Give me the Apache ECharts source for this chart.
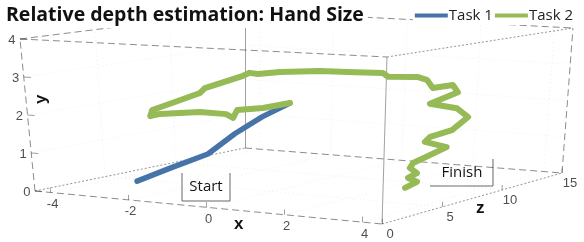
<!DOCTYPE html>
<html>
<head>
<meta charset="utf-8">
<script src="https://cdn.jsdelivr.net/npm/echarts@6/dist/echarts.min.js"></script>
<style>
  html, body { margin: 0; padding: 0; background: #fff; }
  #chart { width: 584px; height: 242px; }
</style>
</head>
<body>
<div id="chart"></div>
<script>
// axis ranges and ticks
const xRange = [-4.4, 4.5];
const yRange = [0, 4];
const zRange = [0, 15];
const xTicks = [-4, -2, 0, 2, 4];
const yTicks = [0, 1, 2, 3, 4];
const zTicks = [0, 5, 10, 15];

// hand positions, task 1 (start -> middle)
const task1X = [-2.46, -1.94, -1.30, -0.94, -0.40, 0.15];
const task1Y = [0.29, 0.60, 0.95, 1.44, 1.89, 2.26];
const task1Z = [2, 3, 4, 5, 5.5, 6];

// hand positions, task 2 (middle -> finish)
const task2X = [0.15, -0.55, -1.22, -1.33, -1.51, -2.19, -2.71, -3.23, -3.49, -3.43,
                -2.83, -2.17, -2.04, -1.05, -0.88, -0.67, -0.10, 0.92, 1.82, 2.53,
                2.67, 3.41, 3.66, 3.82, 3.37, 3.51, 2.79, 3.50, 3.81, 3.40,
                3.80, 3.67, 4.24, 3.38, 3.30, 3.49, 3.26, 3.50, 3.19];
const task2Y = [2.26, 2.08, 1.98, 1.76, 1.85, 1.86, 1.79, 1.73, 1.65, 1.82,
                2.08, 2.37, 2.51, 2.90, 2.99, 2.97, 3.06, 3.15, 3.17, 3.19,
                3.10, 3.14, 3.08, 2.88, 2.75, 2.57, 2.22, 2.15, 1.94, 1.57,
                1.64, 1.50, 1.41, 0.94, 0.81, 0.69, 0.55, 0.47, 0.29];
const task2Z = [6, 6, 6, 6, 6, 6, 6, 6, 6, 6,
                6, 6, 6, 6, 6, 6, 6, 6, 6, 6,
                6, 6, 6, 6, 9, 9, 9, 9, 9, 9,
                6, 6, 6, 6, 6, 6, 6, 6, 6];

// camera: where the 8 corners of the box land on screen (key = x y z, 0 min / 1 max)
const boxCorners = {
  '000': [35, 191], '100': [382, 224], '101': [562, 173], '001': [245, 148],
  '010': [20, 39],  '110': [387, 57],  '111': [573, 28],  '011': [245, 11]
};

function project(x, y, z) {
  const u = (x - xRange[0]) / (xRange[1] - xRange[0]);
  const v = (y - yRange[0]) / (yRange[1] - yRange[0]);
  const w = (z - zRange[0]) / (zRange[1] - zRange[0]);
  let px = 0, py = 0;
  for (const i of [0, 1]) for (const j of [0, 1]) for (const k of [0, 1]) {
    const f = (i ? u : 1 - u) * (j ? v : 1 - v) * (k ? w : 1 - w);
    const c = boxCorners['' + i + j + k];
    px += f * c[0];
    py += f * c[1];
  }
  return [px, py];
}

const X0 = xRange[0], X1 = xRange[1], Y0 = yRange[0], Y1 = yRange[1], Z0 = zRange[0], Z1 = zRange[1];
const dashed = { color: '#1a1a1a', width: 1, type: [7, 4] };
const dotted = { color: '#2a2a2a', width: 1, type: [2, 2] };
const solid = { color: '#444', width: 1, type: 'solid' };
const faint = { color: '#e2e2e2', width: 1, type: [1, 3] };

function seg(a, b, style) {
  return { coords: [project(...a), project(...b)], lineStyle: style };
}

const boxEdges = [
  seg([X0, Y0, Z0], [X1, Y0, Z0], dashed),
  seg([X0, Y0, Z0], [X0, Y1, Z0], dashed),
  seg([X0, Y1, Z0], [X1, Y1, Z0], dashed),
  seg([X0, Y1, Z0], [X0, Y1, Z1], dashed),
  seg([X0, Y1, Z1], [X1, Y1, Z1], dashed),
  seg([X1, Y1, Z0], [X1, Y1, Z1], dotted),
  seg([X1, Y0, Z1], [X1, Y1, Z1], dashed),
  seg([X1, Y0, Z0], [X1, Y0, Z1], dotted),
  seg([X0, Y0, Z0], [X0, Y0, Z1], dotted),
  seg([X0, Y0, Z1], [X1, Y0, Z1], dashed),
  seg([X1, Y0, Z0], [X1, Y1, Z0], solid),
  seg([X0, Y0, Z1], [X0, Y1, Z1], solid)
];

const gridLines = [];
xTicks.forEach(t => {
  gridLines.push(seg([t, Y0, Z1], [t, Y1, Z1], faint));
  gridLines.push(seg([t, Y0, Z0], [t, Y0, Z1], faint));
});
yTicks.slice(1, -1).forEach(t => {
  gridLines.push(seg([X0, t, Z1], [X1, t, Z1], faint));
  gridLines.push(seg([X0, t, Z0], [X0, t, Z1], faint));
});
zTicks.slice(1, -1).forEach(t => {
  gridLines.push(seg([X0, Y0, t], [X1, Y0, t], faint));
  gridLines.push(seg([X0, Y0, t], [X0, Y1, t], faint));
});

const tickMarks = [];
xTicks.forEach(t => tickMarks.push(seg([t, Y0, Z0], [t, 0.13, Z0], solid)));
yTicks.forEach(t => tickMarks.push(seg([X0, t, Z0], [X0 + 0.18, t, Z0], solid)));
zTicks.forEach(t => tickMarks.push(seg([X1, Y0, t], [X1, 0.13, t], solid)));

const task1 = task1X.map((x, i) => project(x, task1Y[i], task1Z[i]));
const task2 = task2X.map((x, i) => project(x, task2Y[i], task2Z[i]));

const labelFont = { fontFamily: 'Liberation Sans', fontSize: 13, color: '#222' };
function tickLabels(ticks, pos, label) {
  return {
    type: 'scatter', silent: true, symbolSize: 1,
    itemStyle: { color: 'rgba(0,0,0,0)' },
    data: ticks.map(t => ({ value: pos(t), name: String(t) })),
    label: Object.assign({ show: true, formatter: p => p.name }, labelFont, label)
  };
}

const chart = echarts.init(document.getElementById('chart'));
chart.setOption({
  animation: false,
  title: {
    text: 'Relative depth estimation: Hand Size',
    left: 2, top: 2, padding: [3, 4],
    backgroundColor: '#fff',
    textStyle: { fontFamily: 'Open Sans', fontWeight: 'bold', fontSize: 19.5, color: '#111' }
  },
  legend: {
    data: ['Task 1', 'Task 2'],
    right: 9, top: 6, padding: [2, 2],
    backgroundColor: '#fff',
    icon: 'rect', itemWidth: 33, itemHeight: 4, itemGap: 2,
    textStyle: { fontFamily: 'Open Sans', fontSize: 15, color: '#222', padding: [0, 0, 0, -4] }
  },
  grid: { left: 0, right: 0, top: 0, bottom: 0 },
  xAxis: { type: 'value', min: 0, max: 584, show: false },
  yAxis: { type: 'value', min: 0, max: 242, inverse: true, show: false },
  series: [
    { type: 'lines', coordinateSystem: 'cartesian2d', silent: true, z: 1, data: gridLines },
    { type: 'lines', coordinateSystem: 'cartesian2d', silent: true, z: 2, data: boxEdges.concat(tickMarks) },
    tickLabels(xTicks, t => project(t, Y0, Z0), { position: 'inside', offset: [2, 12] }),
    tickLabels(yTicks, t => project(X0, t, Z0), { position: 'left', distance: 4, offset: [0, 1] }),
    tickLabels(zTicks, t => project(X1, Y0, t), { position: 'inside', offset: [8, 10] }),
    {
      name: 'Task 1', type: 'line', data: task1, symbol: 'none', z: 5,
      itemStyle: { color: '#4774a8' },
      lineStyle: { color: '#4774a8', width: 5.5, cap: 'round', join: 'round' }
    },
    {
      name: 'Task 2', type: 'line', data: task2, symbol: 'none', z: 6,
      itemStyle: { color: '#95ba56' },
      lineStyle: { color: '#95ba56', width: 6, cap: 'round', join: 'round' }
    }
  ],
  graphic: [
    { type: 'text', left: 234, top: 216, style: { text: 'x', font: 'bold 17px "Liberation Sans"', fill: '#111' } },
    { type: 'text', left: 476, top: 200, style: { text: 'z', font: 'bold 17px "Liberation Sans"', fill: '#111' } },
    { type: 'text', x: 33, y: 104, rotation: Math.PI / 2, style: { text: 'y', font: 'bold 17px "Liberation Sans"', fill: '#111' } },
    { type: 'text', x: 206, y: 187, style: { text: 'Start', font: '15px "Open Sans"', fill: '#111', align: 'center', verticalAlign: 'middle' } },
    { type: 'polyline', shape: { points: [[182, 173], [182, 201], [230, 201], [230, 173]] }, style: { stroke: '#666', lineWidth: 1, fill: null } },
    { type: 'text', x: 462, y: 173, style: { text: 'Finish', font: '15px "Open Sans"', fill: '#111', align: 'center', verticalAlign: 'middle' } },
    { type: 'polyline', shape: { points: [[430, 186], [493, 186], [493, 159]] }, style: { stroke: '#666', lineWidth: 1, fill: null } }
  ]
});
</script>
</body>
</html>
